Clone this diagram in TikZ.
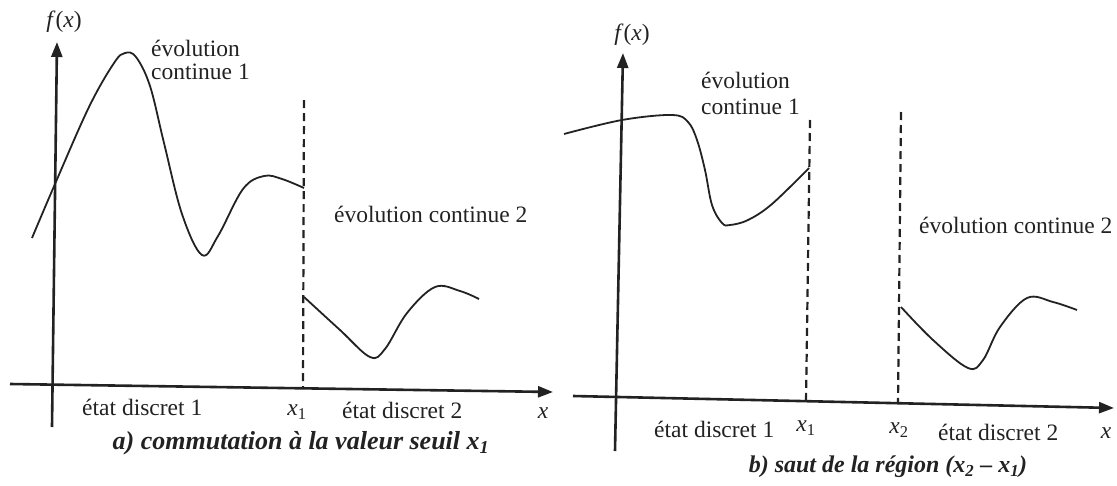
\documentclass[tikz,border=0pt]{standalone}
\usepackage{fontspec}
\setmainfont{Liberation Serif}
\usetikzlibrary{arrows.meta}
\definecolor{ink}{HTML}{222222}
\tikzset{
  axis/.style={draw=ink, line width=2.6pt, -{Triangle[length=15pt,width=11pt]}},
  curve/.style={draw=ink, line width=1.8pt, smooth, tension=0.6},
  dashline/.style={draw=ink, line width=2.2pt, dash pattern=on 8pt off 5pt},
  lbl/.style={text=ink, font=\fontsize{23.5}{25}\selectfont, inner sep=0pt},
  lbll/.style={lbl, anchor=west},
  captxt/.style={text=ink, font=\fontsize{24}{26}\selectfont\bfseries\itshape, inner sep=0pt}
}
\begin{document}
\begin{tikzpicture}[x=1pt,y=-1pt]
\useasboundingbox (0,0) rectangle (1117,485);
% ---------- panel a ----------
\coordinate (ay0) at (52,427);
\coordinate (ay1) at (57,42);
\coordinate (ax0) at (10,384);
\coordinate (ax1) at (553,392);
\draw[axis] (ay0) -- (ay1);
\draw[axis] (ax0) -- (ax1);
\node[lbl] (afx) at (64,22) {\textit{f}(\textit{x})};
\coordinate (ad0) at (304,100);
\coordinate (ad1) at (303,389);
\draw[dashline] (ad0) -- (ad1);
\draw[curve] plot coordinates {(32,238) (55,184) (89,107) (114,63) (125,53) (136,57) (150,86) (164,143) (182,214) (202,255) (218,236) (243,189) (264,176) (282,179) (304,188)};
\draw[curve] plot coordinates {(304,297) (340,330) (370,357) (385,349) (407,313) (435,287) (460,291) (479,299)};
\node[lbll] (aev1) at (151,48) {évolution};
\node[lbll] (aco1) at (151,72) {continue 1};
\node[lbll] (aev2) at (334,214) {évolution continue 2};
\node[lbll] (aed1) at (82,407) {état discret 1};
\node[lbl] (ax1l) at (297,412) {\textit{x}\textsubscript{1}};
\node[lbll] (aed2) at (342,410) {état discret 2};
\node[lbl] (axl) at (543,413) {\textit{x}};
\node[captxt, font=\fontsize{26}{28}\selectfont\bfseries\itshape] (acap) at (301,443) {a) commutation à la valeur seuil \textit{x}\textsubscript{1}};
% ---------- panel b ----------
\coordinate (by0) at (615,451);
\coordinate (by1) at (623,53);
\coordinate (bx0) at (573,396);
\coordinate (bx1) at (1114,408);
\draw[axis] (by0) -- (by1);
\draw[axis] (bx0) -- (bx1);
\node[lbl] (bfx) at (632,35) {\textit{f}(\textit{x})};
\coordinate (bd10) at (810,120);
\coordinate (bd11) at (806,402);
\coordinate (bd20) at (901,112);
\coordinate (bd21) at (898,404);
\draw[dashline] (bd10) -- (bd11);
\draw[dashline] (bd20) -- (bd21);
\draw[curve] plot coordinates {(564,134) (622,120) (672,115) (688,122) (697,140) (705,170) (712,205) (722,223) (730,225) (748,220) (772,204) (809,168)};
\draw[curve] plot coordinates {(901,307) (933,340) (968,368) (983,360) (1000,327) (1027,298) (1053,302) (1077,310)};
\node[lbll] (bev1) at (701,80) {évolution};
\node[lbll] (bco1) at (701,107) {continue 1};
\node[lbll] (bev2) at (919,225) {évolution continue 2};
\node[lbll] (bed1) at (654,429) {état discret 1};
\node[lbl] (bx1l) at (806,428) {\textit{x}\textsubscript{1}};
\node[lbl] (bx2l) at (899,430) {\textit{x}\textsubscript{2}};
\node[lbll] (bed2) at (938,432) {état discret 2};
\node[lbl] (bxl) at (1106,433) {\textit{x}};
\node[captxt] (bcap) at (888,467) {b) saut de la région (\textit{x}\textsubscript{2} – \textit{x}\textsubscript{1})};
\end{tikzpicture}
\end{document}
